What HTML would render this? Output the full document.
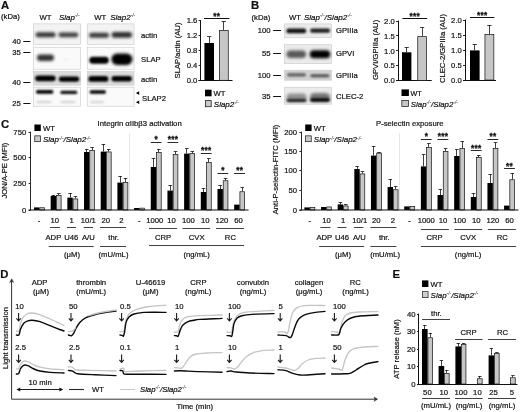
<!DOCTYPE html>
<html lang="en">
<head>
<meta charset="utf-8">
<title>Figure</title>
<style>html,body{margin:0;padding:0;background:#fff}svg{display:block}</style>
</head>
<body>
<svg width="520" height="412" viewBox="0 0 520 412" font-family="'Liberation Sans', Arial, sans-serif" fill="#111">
<defs>
<filter id="b0_6" x="-30%" y="-80%" width="160%" height="260%"><feGaussianBlur stdDeviation="0.6"/></filter>
<filter id="b0_8" x="-30%" y="-80%" width="160%" height="260%"><feGaussianBlur stdDeviation="0.8"/></filter>
<filter id="b0_9" x="-30%" y="-80%" width="160%" height="260%"><feGaussianBlur stdDeviation="0.9"/></filter>
<filter id="b1_0" x="-30%" y="-80%" width="160%" height="260%"><feGaussianBlur stdDeviation="1.0"/></filter>
<filter id="b1_1" x="-30%" y="-80%" width="160%" height="260%"><feGaussianBlur stdDeviation="1.1"/></filter>
<filter id="b1_2" x="-30%" y="-80%" width="160%" height="260%"><feGaussianBlur stdDeviation="1.2"/></filter>
<filter id="b1_3" x="-30%" y="-80%" width="160%" height="260%"><feGaussianBlur stdDeviation="1.3"/></filter>
<filter id="b1_4" x="-30%" y="-80%" width="160%" height="260%"><feGaussianBlur stdDeviation="1.4"/></filter>
<filter id="b1_6" x="-30%" y="-80%" width="160%" height="260%"><feGaussianBlur stdDeviation="1.6"/></filter>
<filter id="b1_8" x="-30%" y="-80%" width="160%" height="260%"><feGaussianBlur stdDeviation="1.8"/></filter>
<filter id="b2_0" x="-30%" y="-80%" width="160%" height="260%"><feGaussianBlur stdDeviation="2.0"/></filter>
</defs>
<style>text{stroke:#111;stroke-width:0.2px;paint-order:stroke fill}</style>
<rect width="520" height="412" fill="#fff"/>
<text x="1.00" y="9.40" font-size="11.3" font-weight="bold">A</text>
<text x="1.00" y="19.40" font-size="7.7">(kDa)</text>
<text x="39.50" y="19.50" font-size="7.7">WT</text>
<text x="59.00" y="19.50" font-size="8.0" font-style="italic">Slap<tspan dy="-2.3" font-size="4.8" stroke-width="0">-/-</tspan></text>
<text x="94.30" y="19.50" font-size="7.7">WT</text>
<text x="110.20" y="19.50" font-size="8.0" font-style="italic">Slap2<tspan dy="-2.3" font-size="4.8" stroke-width="0">-/-</tspan></text>
<rect x="33.40" y="23.90" width="47.20" height="20.40" fill="#f3f3f3" stroke="#c9c9c9" stroke-width="0.6"/>
<rect x="33.40" y="47.20" width="47.20" height="22.00" fill="#fafafa" stroke="#c9c9c9" stroke-width="0.6"/>
<rect x="33.40" y="71.60" width="47.20" height="13.60" fill="#dcdcdc" stroke="#c9c9c9" stroke-width="0.6"/>
<rect x="33.40" y="87.20" width="47.20" height="19.00" fill="#fafafa" stroke="#c9c9c9" stroke-width="0.6"/>
<rect x="87.20" y="23.90" width="46.80" height="20.40" fill="#f3f3f3" stroke="#c9c9c9" stroke-width="0.6"/>
<rect x="87.20" y="47.20" width="46.80" height="22.00" fill="#fafafa" stroke="#c9c9c9" stroke-width="0.6"/>
<rect x="87.20" y="71.60" width="46.80" height="13.60" fill="#dcdcdc" stroke="#c9c9c9" stroke-width="0.6"/>
<rect x="87.20" y="87.20" width="46.80" height="19.00" fill="#fafafa" stroke="#c9c9c9" stroke-width="0.6"/>
<rect x="35.60" y="32.30" width="20.00" height="5.00" rx="2.50" fill="#000" opacity="0.78" filter="url(#b1_6)"/>
<rect x="58.40" y="32.40" width="20.00" height="4.80" rx="2.40" fill="#000" opacity="0.74" filter="url(#b1_6)"/>
<rect x="37.00" y="54.50" width="17.00" height="6.60" rx="3.30" fill="#000" opacity="0.8" filter="url(#b1_8)"/>
<rect x="64.00" y="58.90" width="4.00" height="1.20" rx="0.60" fill="#000" opacity="0.12" filter="url(#b0_8)"/>
<rect x="35.15" y="75.40" width="20.50" height="5.80" rx="2.90" fill="#000" opacity="1" filter="url(#b1_1)"/>
<rect x="58.75" y="76.40" width="20.50" height="5.40" rx="2.70" fill="#000" opacity="1" filter="url(#b1_1)"/>
<rect x="35.95" y="90.10" width="17.50" height="3.60" rx="1.80" fill="#000" opacity="1" filter="url(#b0_9)"/>
<rect x="60.30" y="90.80" width="17.00" height="3.20" rx="1.60" fill="#000" opacity="0.95" filter="url(#b0_9)"/>
<rect x="36.50" y="101.00" width="15.00" height="2.00" rx="1.00" fill="#000" opacity="0.16" filter="url(#b0_8)"/>
<rect x="60.50" y="101.00" width="15.00" height="2.00" rx="1.00" fill="#000" opacity="0.16" filter="url(#b0_8)"/>
<rect x="89.00" y="32.70" width="20.00" height="5.00" rx="2.50" fill="#000" opacity="0.76" filter="url(#b1_6)"/>
<rect x="111.55" y="31.90" width="20.50" height="5.80" rx="2.90" fill="#000" opacity="0.8" filter="url(#b1_6)"/>
<rect x="89.25" y="56.80" width="19.50" height="7.00" rx="3.50" fill="#000" opacity="1" filter="url(#b1_3)"/>
<rect x="111.40" y="53.45" width="21.00" height="11.50" rx="5.75" fill="#000" opacity="1" filter="url(#b1_4)"/>
<rect x="88.40" y="76.00" width="20.00" height="5.80" rx="2.90" fill="#000" opacity="1" filter="url(#b1_1)"/>
<rect x="111.45" y="76.10" width="20.50" height="5.40" rx="2.70" fill="#000" opacity="1" filter="url(#b1_1)"/>
<rect x="89.55" y="90.20" width="16.50" height="3.60" rx="1.80" fill="#000" opacity="1" filter="url(#b0_9)"/>
<rect x="90.00" y="101.00" width="14.00" height="2.00" rx="1.00" fill="#000" opacity="0.16" filter="url(#b0_8)"/>
<text x="20.80" y="44.00" font-size="7.7" text-anchor="end">40</text>
<line x1="23.30" y1="41.50" x2="30.40" y2="41.50" stroke="#111" stroke-width="1.0"/>
<text x="20.80" y="54.80" font-size="7.7" text-anchor="end">35</text>
<line x1="23.30" y1="52.50" x2="30.40" y2="52.50" stroke="#111" stroke-width="1.0"/>
<text x="20.80" y="85.30" font-size="7.7" text-anchor="end">40</text>
<line x1="23.30" y1="82.50" x2="30.40" y2="82.50" stroke="#111" stroke-width="1.0"/>
<text x="20.80" y="105.80" font-size="7.7" text-anchor="end">25</text>
<line x1="23.30" y1="103.50" x2="30.40" y2="103.50" stroke="#111" stroke-width="1.0"/>
<text x="141.00" y="37.80" font-size="7.7">actin</text>
<text x="141.00" y="61.80" font-size="7.7">SLAP</text>
<text x="141.00" y="81.80" font-size="7.7">actin</text>
<text x="142.00" y="101.10" font-size="7.7">SLAP2</text>
<path d="M135.9,93.1 l3.3,-1.8 v3.6z M135.9,102.2 l3.3,-1.8 v3.6z" fill="#000"/>
<line x1="200.50" y1="20.20" x2="200.50" y2="80.70" stroke="#111" stroke-width="1.0"/>
<line x1="198.60" y1="80.50" x2="232.50" y2="80.50" stroke="#111" stroke-width="1.0"/>
<line x1="198.60" y1="20.50" x2="200.60" y2="20.50" stroke="#111" stroke-width="0.9"/>
<text x="197.40" y="23.40" font-size="7.7" text-anchor="end">1.6</text>
<line x1="198.60" y1="35.50" x2="200.60" y2="35.50" stroke="#111" stroke-width="0.9"/>
<text x="197.40" y="38.30" font-size="7.7" text-anchor="end">1.2</text>
<line x1="198.60" y1="50.50" x2="200.60" y2="50.50" stroke="#111" stroke-width="0.9"/>
<text x="197.40" y="53.20" font-size="7.7" text-anchor="end">0.8</text>
<line x1="198.60" y1="65.50" x2="200.60" y2="65.50" stroke="#111" stroke-width="0.9"/>
<text x="197.40" y="68.20" font-size="7.7" text-anchor="end">0.4</text>
<line x1="198.60" y1="80.50" x2="200.60" y2="80.50" stroke="#111" stroke-width="0.9"/>
<text x="197.40" y="83.10" font-size="7.7" text-anchor="end">0.0</text>
<text x="179.80" y="50.50" font-size="7.7" text-anchor="middle" transform="rotate(-90 179.80 50.50)">SLAP/actin (AU)</text>
<line x1="209.50" y1="43.00" x2="209.50" y2="36.60" stroke="#111" stroke-width="0.8"/>
<line x1="207.04" y1="36.50" x2="211.36" y2="36.50" stroke="#111" stroke-width="0.8"/>
<rect x="204.40" y="43.00" width="9.60" height="37.30" fill="#000"/>
<line x1="223.50" y1="30.00" x2="223.50" y2="21.40" stroke="#111" stroke-width="0.8"/>
<line x1="221.64" y1="21.50" x2="225.96" y2="21.50" stroke="#111" stroke-width="0.8"/>
<rect x="219.35" y="30.35" width="8.90" height="49.95" fill="#c6c6c6" stroke="#111" stroke-width="0.7"/>
<line x1="204.00" y1="18.50" x2="229.40" y2="18.50" stroke="#111" stroke-width="1.0"/>
<text x="216.70" y="18.50" font-size="8.2" text-anchor="middle" font-weight="bold" style="stroke-width:0.3px" letter-spacing="0.3">**</text>
<rect x="205.00" y="89.70" width="6.60" height="6.60" fill="#000"/>
<text x="213.60" y="95.80" font-size="7.7">WT</text>
<rect x="205.40" y="100.60" width="5.80" height="6.10" fill="#cacaca" stroke="#222" stroke-width="0.8"/>
<text x="213.80" y="106.60" font-size="8.0" font-style="italic">Slap2<tspan dy="-2.3" font-size="4.8" stroke-width="0">-/-</tspan></text>
<text x="251.00" y="9.30" font-size="11.3" font-weight="bold">B</text>
<text x="251.50" y="19.50" font-size="7.7">(kDa)</text>
<text x="288.90" y="19.50" font-size="7.7">WT</text>
<text x="304.00" y="19.50" font-size="8.0" font-style="italic">Slap<tspan dy="-2.3" font-size="4.8" stroke-width="0">-/-</tspan><tspan dy="2.3">/Slap2</tspan><tspan dy="-2.3" font-size="4.8" stroke-width="0">-/-</tspan></text>
<rect x="284.60" y="23.90" width="46.80" height="13.90" fill="#ebebeb" stroke="#c9c9c9" stroke-width="0.6"/>
<rect x="284.60" y="44.70" width="46.80" height="19.00" fill="#ebebeb" stroke="#c9c9c9" stroke-width="0.6"/>
<rect x="284.60" y="70.20" width="46.80" height="10.00" fill="#d2d2d2" stroke="#c9c9c9" stroke-width="0.6"/>
<rect x="284.60" y="87.20" width="46.80" height="17.00" fill="#ebebeb" stroke="#c9c9c9" stroke-width="0.6"/>
<rect x="286.30" y="28.50" width="20.00" height="4.80" rx="2.40" fill="#000" opacity="0.92" filter="url(#b1_2)"/>
<rect x="310.10" y="28.40" width="20.00" height="4.40" rx="2.20" fill="#000" opacity="0.88" filter="url(#b1_2)"/>
<rect x="286.55" y="50.45" width="19.50" height="7.50" rx="3.75" fill="#000" opacity="0.62" filter="url(#b1_8)"/>
<rect x="309.75" y="50.20" width="20.50" height="8.00" rx="4.00" fill="#000" opacity="1.0" filter="url(#b1_8)"/>
<rect x="287.00" y="73.20" width="19.00" height="3.20" rx="1.60" fill="#000" opacity="0.55" filter="url(#b0_9)"/>
<rect x="310.30" y="74.30" width="19.00" height="3.00" rx="1.50" fill="#000" opacity="0.62" filter="url(#b0_9)"/>
<rect x="286.50" y="93.50" width="20.00" height="8.00" rx="4.00" fill="#000" opacity="0.38" filter="url(#b1_8)"/>
<rect x="310.00" y="93.05" width="20.00" height="8.50" rx="4.25" fill="#000" opacity="0.5" filter="url(#b1_8)"/>
<rect x="286.50" y="98.90" width="20.00" height="3.00" rx="1.50" fill="#000" opacity="0.8" filter="url(#b1_0)"/>
<rect x="310.00" y="98.20" width="20.00" height="3.60" rx="1.80" fill="#000" opacity="0.95" filter="url(#b1_0)"/>
<text x="270.60" y="33.20" font-size="7.7" text-anchor="end">100</text>
<line x1="273.20" y1="30.50" x2="281.00" y2="30.50" stroke="#111" stroke-width="1.0"/>
<text x="270.60" y="56.40" font-size="7.7" text-anchor="end">55</text>
<line x1="273.20" y1="53.50" x2="281.00" y2="53.50" stroke="#111" stroke-width="1.0"/>
<text x="270.60" y="78.20" font-size="7.7" text-anchor="end">100</text>
<line x1="273.20" y1="75.50" x2="281.00" y2="75.50" stroke="#111" stroke-width="1.0"/>
<text x="270.60" y="98.80" font-size="7.7" text-anchor="end">35</text>
<line x1="273.20" y1="96.50" x2="281.00" y2="96.50" stroke="#111" stroke-width="1.0"/>
<text x="336.00" y="33.20" font-size="7.7">GPIIIa</text>
<text x="336.00" y="56.40" font-size="7.7">GPVI</text>
<text x="336.00" y="78.20" font-size="7.7">GPIIIa</text>
<text x="336.00" y="98.80" font-size="7.7">CLEC-2</text>
<line x1="398.50" y1="20.60" x2="398.50" y2="80.80" stroke="#111" stroke-width="1.0"/>
<line x1="396.00" y1="80.50" x2="431.70" y2="80.50" stroke="#111" stroke-width="1.0"/>
<line x1="396.00" y1="21.50" x2="398.00" y2="21.50" stroke="#111" stroke-width="0.9"/>
<text x="394.80" y="23.80" font-size="7.7" text-anchor="end">2.0</text>
<line x1="396.00" y1="35.50" x2="398.00" y2="35.50" stroke="#111" stroke-width="0.9"/>
<text x="394.80" y="38.70" font-size="7.7" text-anchor="end">1.5</text>
<line x1="396.00" y1="50.50" x2="398.00" y2="50.50" stroke="#111" stroke-width="0.9"/>
<text x="394.80" y="53.50" font-size="7.7" text-anchor="end">1.0</text>
<line x1="396.00" y1="65.50" x2="398.00" y2="65.50" stroke="#111" stroke-width="0.9"/>
<text x="394.80" y="68.40" font-size="7.7" text-anchor="end">0.5</text>
<line x1="396.00" y1="80.50" x2="398.00" y2="80.50" stroke="#111" stroke-width="0.9"/>
<text x="394.80" y="83.20" font-size="7.7" text-anchor="end">0.0</text>
<text x="377.80" y="49.90" font-size="7.7" text-anchor="middle" transform="rotate(-90 377.80 49.90)">GPVI/GPIIIa (AU)</text>
<line x1="406.50" y1="52.30" x2="406.50" y2="47.40" stroke="#111" stroke-width="0.8"/>
<line x1="404.58" y1="47.50" x2="408.81" y2="47.50" stroke="#111" stroke-width="0.8"/>
<rect x="402.00" y="52.30" width="9.40" height="28.10" fill="#000"/>
<line x1="422.50" y1="36.30" x2="422.50" y2="27.40" stroke="#111" stroke-width="0.8"/>
<line x1="419.98" y1="27.50" x2="424.21" y2="27.50" stroke="#111" stroke-width="0.8"/>
<rect x="417.75" y="36.65" width="8.70" height="43.75" fill="#c6c6c6" stroke="#111" stroke-width="0.7"/>
<line x1="402.40" y1="18.50" x2="427.20" y2="18.50" stroke="#111" stroke-width="1.0"/>
<text x="414.80" y="18.70" font-size="8.2" text-anchor="middle" font-weight="bold" style="stroke-width:0.3px" letter-spacing="0.3">***</text>
<line x1="465.50" y1="19.60" x2="465.50" y2="80.40" stroke="#111" stroke-width="1.0"/>
<line x1="463.00" y1="80.50" x2="496.00" y2="80.50" stroke="#111" stroke-width="1.0"/>
<line x1="463.00" y1="20.50" x2="465.00" y2="20.50" stroke="#111" stroke-width="0.9"/>
<text x="461.80" y="22.80" font-size="7.7" text-anchor="end">2.0</text>
<line x1="463.00" y1="35.50" x2="465.00" y2="35.50" stroke="#111" stroke-width="0.9"/>
<text x="461.80" y="37.80" font-size="7.7" text-anchor="end">1.5</text>
<line x1="463.00" y1="50.50" x2="465.00" y2="50.50" stroke="#111" stroke-width="0.9"/>
<text x="461.80" y="52.80" font-size="7.7" text-anchor="end">1.0</text>
<line x1="463.00" y1="65.50" x2="465.00" y2="65.50" stroke="#111" stroke-width="0.9"/>
<text x="461.80" y="67.80" font-size="7.7" text-anchor="end">0.5</text>
<line x1="463.00" y1="80.50" x2="465.00" y2="80.50" stroke="#111" stroke-width="0.9"/>
<text x="461.80" y="82.80" font-size="7.7" text-anchor="end">0.0</text>
<text x="444.90" y="48.50" font-size="7.7" text-anchor="middle" transform="rotate(-90 444.90 48.50)">CLEC-2/GPIIIa (AU)</text>
<line x1="474.50" y1="50.40" x2="474.50" y2="44.40" stroke="#111" stroke-width="0.8"/>
<line x1="472.64" y1="44.50" x2="476.96" y2="44.50" stroke="#111" stroke-width="0.8"/>
<rect x="470.00" y="50.40" width="9.60" height="29.60" fill="#000"/>
<line x1="489.50" y1="34.00" x2="489.50" y2="25.00" stroke="#111" stroke-width="0.8"/>
<line x1="487.24" y1="25.50" x2="491.56" y2="25.50" stroke="#111" stroke-width="0.8"/>
<rect x="484.95" y="34.35" width="8.90" height="45.65" fill="#c6c6c6" stroke="#111" stroke-width="0.7"/>
<line x1="470.00" y1="17.50" x2="494.40" y2="17.50" stroke="#111" stroke-width="1.0"/>
<text x="482.20" y="18.20" font-size="8.2" text-anchor="middle" font-weight="bold" style="stroke-width:0.3px" letter-spacing="0.3">***</text>
<rect x="401.50" y="89.40" width="7.40" height="6.60" fill="#000"/>
<text x="410.40" y="95.60" font-size="7.2">WT</text>
<rect x="401.80" y="100.40" width="6.80" height="6.20" fill="#c6c6c6" stroke="#111" stroke-width="0.7"/>
<text x="410.80" y="106.60" font-size="7.85" font-style="italic">Slap<tspan dy="-2.3" font-size="4.8" stroke-width="0">-/-</tspan><tspan dy="2.3">/Slap2</tspan><tspan dy="-2.3" font-size="4.8" stroke-width="0">-/-</tspan></text>
<text x="1.00" y="127.90" font-size="11.3" font-weight="bold">C</text>
<text x="97.60" y="126.00" font-size="7.7">Integrin αIIbβ3 activation</text>
<text x="376.00" y="126.00" font-size="7.7">P-selectin exposure</text>
<line x1="129.50" y1="133.00" x2="129.50" y2="210.00" stroke="#cfcfcf" stroke-width="0.5"/>
<rect x="34.00" y="207.40" width="5.40" height="2.60" fill="#000"/>
<rect x="39.75" y="207.75" width="4.70" height="2.25" fill="#c6c6c6" stroke="#111" stroke-width="0.7"/>
<line x1="53.50" y1="196.00" x2="53.50" y2="195.00" stroke="#111" stroke-width="0.8"/>
<line x1="51.58" y1="195.50" x2="55.18" y2="195.50" stroke="#111" stroke-width="0.8"/>
<rect x="50.68" y="196.00" width="5.40" height="14.00" fill="#000"/>
<line x1="58.50" y1="195.00" x2="58.50" y2="193.80" stroke="#111" stroke-width="0.8"/>
<line x1="56.98" y1="193.50" x2="60.58" y2="193.50" stroke="#111" stroke-width="0.8"/>
<rect x="56.43" y="195.35" width="4.70" height="14.65" fill="#c6c6c6" stroke="#111" stroke-width="0.7"/>
<line x1="70.50" y1="197.60" x2="70.50" y2="193.00" stroke="#111" stroke-width="0.8"/>
<line x1="68.26" y1="193.50" x2="71.86" y2="193.50" stroke="#111" stroke-width="0.8"/>
<rect x="67.36" y="197.60" width="5.40" height="12.40" fill="#000"/>
<line x1="75.50" y1="198.60" x2="75.50" y2="196.60" stroke="#111" stroke-width="0.8"/>
<line x1="73.66" y1="196.50" x2="77.26" y2="196.50" stroke="#111" stroke-width="0.8"/>
<rect x="73.11" y="198.95" width="4.70" height="11.05" fill="#c6c6c6" stroke="#111" stroke-width="0.7"/>
<line x1="86.50" y1="152.00" x2="86.50" y2="149.40" stroke="#111" stroke-width="0.8"/>
<line x1="84.94" y1="149.50" x2="88.54" y2="149.50" stroke="#111" stroke-width="0.8"/>
<rect x="84.04" y="152.00" width="5.40" height="58.00" fill="#000"/>
<line x1="92.50" y1="150.00" x2="92.50" y2="147.60" stroke="#111" stroke-width="0.8"/>
<line x1="90.34" y1="147.50" x2="93.94" y2="147.50" stroke="#111" stroke-width="0.8"/>
<rect x="89.79" y="150.35" width="4.70" height="59.65" fill="#c6c6c6" stroke="#111" stroke-width="0.7"/>
<line x1="103.50" y1="151.60" x2="103.50" y2="144.00" stroke="#111" stroke-width="0.8"/>
<line x1="101.62" y1="144.50" x2="105.22" y2="144.50" stroke="#111" stroke-width="0.8"/>
<rect x="100.72" y="151.60" width="5.40" height="58.40" fill="#000"/>
<line x1="108.50" y1="151.60" x2="108.50" y2="149.00" stroke="#111" stroke-width="0.8"/>
<line x1="107.02" y1="149.50" x2="110.62" y2="149.50" stroke="#111" stroke-width="0.8"/>
<rect x="106.47" y="151.95" width="4.70" height="58.05" fill="#c6c6c6" stroke="#111" stroke-width="0.7"/>
<line x1="120.50" y1="182.60" x2="120.50" y2="176.00" stroke="#111" stroke-width="0.8"/>
<line x1="118.30" y1="176.50" x2="121.90" y2="176.50" stroke="#111" stroke-width="0.8"/>
<rect x="117.40" y="182.60" width="5.40" height="27.40" fill="#000"/>
<line x1="125.50" y1="182.00" x2="125.50" y2="178.00" stroke="#111" stroke-width="0.8"/>
<line x1="123.70" y1="178.50" x2="127.30" y2="178.50" stroke="#111" stroke-width="0.8"/>
<rect x="123.15" y="182.35" width="4.70" height="27.65" fill="#c6c6c6" stroke="#111" stroke-width="0.7"/>
<rect x="134.08" y="208.00" width="5.40" height="2.00" fill="#000"/>
<rect x="139.83" y="208.15" width="4.70" height="1.85" fill="#c6c6c6" stroke="#111" stroke-width="0.7"/>
<line x1="153.50" y1="167.00" x2="153.50" y2="158.00" stroke="#111" stroke-width="0.8"/>
<line x1="151.66" y1="158.50" x2="155.26" y2="158.50" stroke="#111" stroke-width="0.8"/>
<rect x="150.76" y="167.00" width="5.40" height="43.00" fill="#000"/>
<line x1="158.50" y1="152.00" x2="158.50" y2="149.00" stroke="#111" stroke-width="0.8"/>
<line x1="157.06" y1="149.50" x2="160.66" y2="149.50" stroke="#111" stroke-width="0.8"/>
<rect x="156.51" y="152.35" width="4.70" height="57.65" fill="#c6c6c6" stroke="#111" stroke-width="0.7"/>
<line x1="170.50" y1="190.60" x2="170.50" y2="185.00" stroke="#111" stroke-width="0.8"/>
<line x1="168.34" y1="185.50" x2="171.94" y2="185.50" stroke="#111" stroke-width="0.8"/>
<rect x="167.44" y="190.60" width="5.40" height="19.40" fill="#000"/>
<line x1="175.50" y1="154.00" x2="175.50" y2="151.60" stroke="#111" stroke-width="0.8"/>
<line x1="173.74" y1="151.50" x2="177.34" y2="151.50" stroke="#111" stroke-width="0.8"/>
<rect x="173.19" y="154.35" width="4.70" height="55.65" fill="#c6c6c6" stroke="#111" stroke-width="0.7"/>
<line x1="186.50" y1="153.60" x2="186.50" y2="148.60" stroke="#111" stroke-width="0.8"/>
<line x1="185.02" y1="148.50" x2="188.62" y2="148.50" stroke="#111" stroke-width="0.8"/>
<rect x="184.12" y="153.60" width="5.40" height="56.40" fill="#000"/>
<line x1="192.50" y1="153.00" x2="192.50" y2="151.40" stroke="#111" stroke-width="0.8"/>
<line x1="190.42" y1="151.50" x2="194.02" y2="151.50" stroke="#111" stroke-width="0.8"/>
<rect x="189.87" y="153.35" width="4.70" height="56.65" fill="#c6c6c6" stroke="#111" stroke-width="0.7"/>
<line x1="203.50" y1="192.00" x2="203.50" y2="188.00" stroke="#111" stroke-width="0.8"/>
<line x1="201.70" y1="188.50" x2="205.30" y2="188.50" stroke="#111" stroke-width="0.8"/>
<rect x="200.80" y="192.00" width="5.40" height="18.00" fill="#000"/>
<line x1="208.50" y1="162.00" x2="208.50" y2="158.60" stroke="#111" stroke-width="0.8"/>
<line x1="207.10" y1="158.50" x2="210.70" y2="158.50" stroke="#111" stroke-width="0.8"/>
<rect x="206.55" y="162.35" width="4.70" height="47.65" fill="#c6c6c6" stroke="#111" stroke-width="0.7"/>
<line x1="220.50" y1="189.00" x2="220.50" y2="185.00" stroke="#111" stroke-width="0.8"/>
<line x1="218.38" y1="185.50" x2="221.98" y2="185.50" stroke="#111" stroke-width="0.8"/>
<rect x="217.48" y="189.00" width="5.40" height="21.00" fill="#000"/>
<line x1="225.50" y1="180.40" x2="225.50" y2="178.40" stroke="#111" stroke-width="0.8"/>
<line x1="223.78" y1="178.50" x2="227.38" y2="178.50" stroke="#111" stroke-width="0.8"/>
<rect x="223.23" y="180.75" width="4.70" height="29.25" fill="#c6c6c6" stroke="#111" stroke-width="0.7"/>
<rect x="234.16" y="204.60" width="5.40" height="5.40" fill="#000"/>
<line x1="242.50" y1="191.40" x2="242.50" y2="187.60" stroke="#111" stroke-width="0.8"/>
<line x1="240.46" y1="187.50" x2="244.06" y2="187.50" stroke="#111" stroke-width="0.8"/>
<rect x="239.91" y="191.75" width="4.70" height="18.25" fill="#c6c6c6" stroke="#111" stroke-width="0.7"/>
<line x1="30.50" y1="131.60" x2="30.50" y2="210.40" stroke="#2a2a2a" stroke-width="1.0"/>
<line x1="28.60" y1="210.00" x2="248.60" y2="210.00" stroke="#111" stroke-width="1.2"/>
<line x1="28.60" y1="132.50" x2="30.40" y2="132.50" stroke="#111" stroke-width="0.9"/>
<text x="26.20" y="134.60" font-size="7.7" text-anchor="end">750</text>
<line x1="28.60" y1="157.50" x2="30.40" y2="157.50" stroke="#111" stroke-width="0.9"/>
<text x="26.20" y="160.40" font-size="7.7" text-anchor="end">500</text>
<line x1="28.60" y1="183.50" x2="30.40" y2="183.50" stroke="#111" stroke-width="0.9"/>
<text x="26.20" y="186.20" font-size="7.7" text-anchor="end">250</text>
<line x1="28.60" y1="210.50" x2="30.40" y2="210.50" stroke="#111" stroke-width="0.9"/>
<text x="26.20" y="212.60" font-size="7.7" text-anchor="end">0</text>
<text x="6.90" y="170.60" font-size="7.7" text-anchor="middle" transform="rotate(-90 6.90 170.60)">JON/A-PE (MFI)</text>
<line x1="150.76" y1="142.50" x2="161.56" y2="142.50" stroke="#111" stroke-width="0.9"/>
<text x="156.26" y="142.20" font-size="8.2" text-anchor="middle" font-weight="bold" style="stroke-width:0.3px" letter-spacing="0.3">*</text>
<line x1="167.44" y1="142.50" x2="178.24" y2="142.50" stroke="#111" stroke-width="0.9"/>
<text x="172.94" y="142.20" font-size="8.2" text-anchor="middle" font-weight="bold" style="stroke-width:0.3px" letter-spacing="0.3">***</text>
<line x1="200.80" y1="153.50" x2="211.60" y2="153.50" stroke="#111" stroke-width="0.9"/>
<text x="206.30" y="153.20" font-size="8.2" text-anchor="middle" font-weight="bold" style="stroke-width:0.3px" letter-spacing="0.3">***</text>
<line x1="217.48" y1="173.50" x2="228.28" y2="173.50" stroke="#111" stroke-width="0.9"/>
<text x="222.98" y="173.20" font-size="8.2" text-anchor="middle" font-weight="bold" style="stroke-width:0.3px" letter-spacing="0.3">*</text>
<line x1="234.16" y1="173.50" x2="244.96" y2="173.50" stroke="#111" stroke-width="0.9"/>
<text x="239.66" y="173.20" font-size="8.2" text-anchor="middle" font-weight="bold" style="stroke-width:0.3px" letter-spacing="0.3">**</text>
<rect x="34.40" y="124.50" width="6.40" height="6.50" fill="#000"/>
<text x="43.00" y="130.60" font-size="7.7">WT</text>
<rect x="34.75" y="135.85" width="5.70" height="5.80" fill="#cacaca" stroke="#222" stroke-width="0.75"/>
<text x="43.00" y="141.80" font-size="8.0" font-style="italic">Slap<tspan dy="-2.3" font-size="4.8" stroke-width="0">-/-</tspan><tspan dy="2.3">/Slap2</tspan><tspan dy="-2.3" font-size="4.8" stroke-width="0">-/-</tspan></text>
<text x="39.00" y="223.30" font-size="7.7" text-anchor="middle">-</text>
<text x="54.68" y="223.30" font-size="7.7" text-anchor="middle">10</text>
<text x="71.66" y="223.30" font-size="7.7" text-anchor="middle">1</text>
<text x="88.34" y="223.30" font-size="7.7" text-anchor="middle">10/1</text>
<text x="105.82" y="223.30" font-size="7.7" text-anchor="middle">20</text>
<text x="121.40" y="223.30" font-size="7.7" text-anchor="middle">2</text>
<text x="139.18" y="223.30" font-size="7.7" text-anchor="middle">-</text>
<text x="154.76" y="223.30" font-size="7.7" text-anchor="middle">1000</text>
<text x="171.64" y="223.30" font-size="7.7" text-anchor="middle">10</text>
<text x="188.32" y="223.30" font-size="7.7" text-anchor="middle">100</text>
<text x="205.20" y="223.30" font-size="7.7" text-anchor="middle">10</text>
<text x="221.88" y="223.30" font-size="7.7" text-anchor="middle">120</text>
<text x="238.46" y="223.30" font-size="7.7" text-anchor="middle">60</text>
<line x1="50.00" y1="227.50" x2="60.00" y2="227.50" stroke="#111" stroke-width="0.8"/>
<line x1="67.00" y1="227.50" x2="76.00" y2="227.50" stroke="#111" stroke-width="0.8"/>
<line x1="83.70" y1="227.50" x2="93.00" y2="227.50" stroke="#111" stroke-width="0.8"/>
<line x1="100.00" y1="227.50" x2="126.00" y2="227.50" stroke="#111" stroke-width="0.8"/>
<line x1="149.00" y1="228.50" x2="177.00" y2="228.50" stroke="#111" stroke-width="0.8"/>
<line x1="182.50" y1="228.50" x2="210.20" y2="228.50" stroke="#111" stroke-width="0.8"/>
<line x1="216.00" y1="228.50" x2="244.00" y2="228.50" stroke="#111" stroke-width="0.8"/>
<text x="53.40" y="239.50" font-size="7.7" text-anchor="middle">ADP</text>
<text x="71.30" y="239.50" font-size="7.7" text-anchor="middle">U46</text>
<text x="88.30" y="239.50" font-size="7.7" text-anchor="middle">A/U</text>
<text x="113.60" y="239.50" font-size="7.7" text-anchor="middle">thr.</text>
<text x="163.00" y="239.50" font-size="7.7" text-anchor="middle">CRP</text>
<text x="196.70" y="239.50" font-size="7.7" text-anchor="middle">CVX</text>
<text x="230.40" y="239.50" font-size="7.7" text-anchor="middle">RC</text>
<line x1="48.70" y1="246.50" x2="93.70" y2="246.50" stroke="#111" stroke-width="0.8"/>
<line x1="100.00" y1="246.50" x2="126.00" y2="246.50" stroke="#111" stroke-width="0.8"/>
<line x1="149.00" y1="245.50" x2="244.00" y2="245.50" stroke="#111" stroke-width="0.8"/>
<text x="72.00" y="257.30" font-size="7.7" text-anchor="middle">(μM)</text>
<text x="113.50" y="257.30" font-size="7.7" text-anchor="middle">(mU/mL)</text>
<text x="196.70" y="257.30" font-size="7.7" text-anchor="middle">(ng/mL)</text>
<line x1="399.50" y1="133.00" x2="399.50" y2="210.00" stroke="#cfcfcf" stroke-width="0.5"/>
<rect x="304.40" y="207.40" width="5.40" height="2.60" fill="#000"/>
<rect x="310.15" y="207.35" width="4.70" height="2.65" fill="#c6c6c6" stroke="#111" stroke-width="0.7"/>
<rect x="321.04" y="207.00" width="5.40" height="3.00" fill="#000"/>
<rect x="326.79" y="206.95" width="4.70" height="3.05" fill="#c6c6c6" stroke="#111" stroke-width="0.7"/>
<line x1="340.50" y1="204.40" x2="340.50" y2="202.40" stroke="#111" stroke-width="0.8"/>
<line x1="338.58" y1="202.50" x2="342.18" y2="202.50" stroke="#111" stroke-width="0.8"/>
<rect x="337.68" y="204.40" width="5.40" height="5.60" fill="#000"/>
<line x1="345.50" y1="205.60" x2="345.50" y2="204.80" stroke="#111" stroke-width="0.8"/>
<line x1="343.98" y1="204.50" x2="347.58" y2="204.50" stroke="#111" stroke-width="0.8"/>
<rect x="343.43" y="205.95" width="4.70" height="4.05" fill="#c6c6c6" stroke="#111" stroke-width="0.7"/>
<line x1="357.50" y1="169.00" x2="357.50" y2="166.60" stroke="#111" stroke-width="0.8"/>
<line x1="355.22" y1="166.50" x2="358.82" y2="166.50" stroke="#111" stroke-width="0.8"/>
<rect x="354.32" y="169.00" width="5.40" height="41.00" fill="#000"/>
<line x1="362.50" y1="173.60" x2="362.50" y2="171.60" stroke="#111" stroke-width="0.8"/>
<line x1="360.62" y1="171.50" x2="364.22" y2="171.50" stroke="#111" stroke-width="0.8"/>
<rect x="360.07" y="173.95" width="4.70" height="36.05" fill="#c6c6c6" stroke="#111" stroke-width="0.7"/>
<line x1="373.50" y1="155.60" x2="373.50" y2="146.00" stroke="#111" stroke-width="0.8"/>
<line x1="371.86" y1="146.50" x2="375.46" y2="146.50" stroke="#111" stroke-width="0.8"/>
<rect x="370.96" y="155.60" width="5.40" height="54.40" fill="#000"/>
<line x1="379.50" y1="152.80" x2="379.50" y2="152.40" stroke="#111" stroke-width="0.8"/>
<line x1="377.26" y1="152.50" x2="380.86" y2="152.50" stroke="#111" stroke-width="0.8"/>
<rect x="376.71" y="153.15" width="4.70" height="56.85" fill="#c6c6c6" stroke="#111" stroke-width="0.7"/>
<line x1="390.50" y1="187.00" x2="390.50" y2="179.00" stroke="#111" stroke-width="0.8"/>
<line x1="388.50" y1="179.50" x2="392.10" y2="179.50" stroke="#111" stroke-width="0.8"/>
<rect x="387.60" y="187.00" width="5.40" height="23.00" fill="#000"/>
<line x1="395.50" y1="189.40" x2="395.50" y2="186.60" stroke="#111" stroke-width="0.8"/>
<line x1="393.90" y1="186.50" x2="397.50" y2="186.50" stroke="#111" stroke-width="0.8"/>
<rect x="393.35" y="189.75" width="4.70" height="20.25" fill="#c6c6c6" stroke="#111" stroke-width="0.7"/>
<rect x="404.24" y="206.40" width="5.40" height="3.60" fill="#000"/>
<rect x="409.99" y="206.35" width="4.70" height="3.65" fill="#c6c6c6" stroke="#111" stroke-width="0.7"/>
<line x1="423.50" y1="166.40" x2="423.50" y2="154.40" stroke="#111" stroke-width="0.8"/>
<line x1="421.78" y1="154.50" x2="425.38" y2="154.50" stroke="#111" stroke-width="0.8"/>
<rect x="420.88" y="166.40" width="5.40" height="43.60" fill="#000"/>
<line x1="428.50" y1="147.00" x2="428.50" y2="143.40" stroke="#111" stroke-width="0.8"/>
<line x1="427.18" y1="143.50" x2="430.78" y2="143.50" stroke="#111" stroke-width="0.8"/>
<rect x="426.63" y="147.35" width="4.70" height="62.65" fill="#c6c6c6" stroke="#111" stroke-width="0.7"/>
<line x1="440.50" y1="195.00" x2="440.50" y2="189.40" stroke="#111" stroke-width="0.8"/>
<line x1="438.42" y1="189.50" x2="442.02" y2="189.50" stroke="#111" stroke-width="0.8"/>
<rect x="437.52" y="195.00" width="5.40" height="15.00" fill="#000"/>
<line x1="445.50" y1="151.00" x2="445.50" y2="148.60" stroke="#111" stroke-width="0.8"/>
<line x1="443.82" y1="148.50" x2="447.42" y2="148.50" stroke="#111" stroke-width="0.8"/>
<rect x="443.27" y="151.35" width="4.70" height="58.65" fill="#c6c6c6" stroke="#111" stroke-width="0.7"/>
<line x1="456.50" y1="156.00" x2="456.50" y2="149.40" stroke="#111" stroke-width="0.8"/>
<line x1="455.06" y1="149.50" x2="458.66" y2="149.50" stroke="#111" stroke-width="0.8"/>
<rect x="454.16" y="156.00" width="5.40" height="54.00" fill="#000"/>
<line x1="462.50" y1="148.00" x2="462.50" y2="141.40" stroke="#111" stroke-width="0.8"/>
<line x1="460.46" y1="141.50" x2="464.06" y2="141.50" stroke="#111" stroke-width="0.8"/>
<rect x="459.91" y="148.35" width="4.70" height="61.65" fill="#c6c6c6" stroke="#111" stroke-width="0.7"/>
<line x1="473.50" y1="197.00" x2="473.50" y2="193.40" stroke="#111" stroke-width="0.8"/>
<line x1="471.70" y1="193.50" x2="475.30" y2="193.50" stroke="#111" stroke-width="0.8"/>
<rect x="470.80" y="197.00" width="5.40" height="13.00" fill="#000"/>
<line x1="478.50" y1="157.00" x2="478.50" y2="155.00" stroke="#111" stroke-width="0.8"/>
<line x1="477.10" y1="155.50" x2="480.70" y2="155.50" stroke="#111" stroke-width="0.8"/>
<rect x="476.55" y="157.35" width="4.70" height="52.65" fill="#c6c6c6" stroke="#111" stroke-width="0.7"/>
<line x1="490.50" y1="183.00" x2="490.50" y2="174.00" stroke="#111" stroke-width="0.8"/>
<line x1="488.34" y1="174.50" x2="491.94" y2="174.50" stroke="#111" stroke-width="0.8"/>
<rect x="487.44" y="183.00" width="5.40" height="27.00" fill="#000"/>
<line x1="495.50" y1="148.00" x2="495.50" y2="142.60" stroke="#111" stroke-width="0.8"/>
<line x1="493.74" y1="142.50" x2="497.34" y2="142.50" stroke="#111" stroke-width="0.8"/>
<rect x="493.19" y="148.35" width="4.70" height="61.65" fill="#c6c6c6" stroke="#111" stroke-width="0.7"/>
<rect x="504.08" y="205.60" width="5.40" height="4.40" fill="#000"/>
<line x1="512.50" y1="179.40" x2="512.50" y2="173.00" stroke="#111" stroke-width="0.8"/>
<line x1="510.38" y1="173.50" x2="513.98" y2="173.50" stroke="#111" stroke-width="0.8"/>
<rect x="509.83" y="179.75" width="4.70" height="30.25" fill="#c6c6c6" stroke="#111" stroke-width="0.7"/>
<line x1="301.50" y1="131.60" x2="301.50" y2="210.40" stroke="#2a2a2a" stroke-width="1.0"/>
<line x1="299.40" y1="210.00" x2="518.50" y2="210.00" stroke="#111" stroke-width="1.2"/>
<line x1="299.40" y1="132.50" x2="301.20" y2="132.50" stroke="#111" stroke-width="0.9"/>
<text x="297.00" y="134.60" font-size="7.7" text-anchor="end">200</text>
<line x1="299.40" y1="151.50" x2="301.20" y2="151.50" stroke="#111" stroke-width="0.9"/>
<text x="297.00" y="154.00" font-size="7.7" text-anchor="end">150</text>
<line x1="299.40" y1="170.50" x2="301.20" y2="170.50" stroke="#111" stroke-width="0.9"/>
<text x="297.00" y="173.40" font-size="7.7" text-anchor="end">100</text>
<line x1="299.40" y1="190.50" x2="301.20" y2="190.50" stroke="#111" stroke-width="0.9"/>
<text x="297.00" y="193.00" font-size="7.7" text-anchor="end">50</text>
<line x1="299.40" y1="210.50" x2="301.20" y2="210.50" stroke="#111" stroke-width="0.9"/>
<text x="297.00" y="212.60" font-size="7.7" text-anchor="end">0</text>
<text x="277.80" y="169.50" font-size="7.7" text-anchor="middle" transform="rotate(-90 277.80 169.50)">Anti-P-selectin-FITC (MFI)</text>
<line x1="420.88" y1="139.50" x2="431.68" y2="139.50" stroke="#111" stroke-width="0.9"/>
<text x="426.38" y="139.20" font-size="8.2" text-anchor="middle" font-weight="bold" style="stroke-width:0.3px" letter-spacing="0.3">*</text>
<line x1="437.52" y1="139.50" x2="448.32" y2="139.50" stroke="#111" stroke-width="0.9"/>
<text x="443.02" y="139.20" font-size="8.2" text-anchor="middle" font-weight="bold" style="stroke-width:0.3px" letter-spacing="0.3">***</text>
<line x1="470.80" y1="150.50" x2="481.60" y2="150.50" stroke="#111" stroke-width="0.9"/>
<text x="476.30" y="150.80" font-size="8.2" text-anchor="middle" font-weight="bold" style="stroke-width:0.3px" letter-spacing="0.3">***</text>
<line x1="487.44" y1="139.50" x2="498.24" y2="139.50" stroke="#111" stroke-width="0.9"/>
<text x="492.94" y="139.20" font-size="8.2" text-anchor="middle" font-weight="bold" style="stroke-width:0.3px" letter-spacing="0.3">**</text>
<line x1="504.08" y1="168.50" x2="514.88" y2="168.50" stroke="#111" stroke-width="0.9"/>
<text x="509.58" y="168.80" font-size="8.2" text-anchor="middle" font-weight="bold" style="stroke-width:0.3px" letter-spacing="0.3">**</text>
<rect x="305.20" y="124.50" width="6.40" height="6.50" fill="#000"/>
<text x="313.80" y="130.60" font-size="7.7">WT</text>
<rect x="305.55" y="135.85" width="5.70" height="5.80" fill="#cacaca" stroke="#222" stroke-width="0.75"/>
<text x="313.80" y="141.80" font-size="8.0" font-style="italic">Slap<tspan dy="-2.3" font-size="4.8" stroke-width="0">-/-</tspan><tspan dy="2.3">/Slap2</tspan><tspan dy="-2.3" font-size="4.8" stroke-width="0">-/-</tspan></text>
<text x="309.80" y="223.30" font-size="7.7" text-anchor="middle">-</text>
<text x="326.44" y="223.30" font-size="7.7" text-anchor="middle">10</text>
<text x="343.08" y="223.30" font-size="7.7" text-anchor="middle">1</text>
<text x="359.72" y="223.30" font-size="7.7" text-anchor="middle">10/1</text>
<text x="376.36" y="223.30" font-size="7.7" text-anchor="middle">20</text>
<text x="393.00" y="223.30" font-size="7.7" text-anchor="middle">2</text>
<text x="409.64" y="223.30" font-size="7.7" text-anchor="middle">-</text>
<text x="426.28" y="223.30" font-size="7.7" text-anchor="middle">1000</text>
<text x="442.92" y="223.30" font-size="7.7" text-anchor="middle">10</text>
<text x="459.56" y="223.30" font-size="7.7" text-anchor="middle">100</text>
<text x="476.20" y="223.30" font-size="7.7" text-anchor="middle">10</text>
<text x="492.84" y="223.30" font-size="7.7" text-anchor="middle">120</text>
<text x="509.48" y="223.30" font-size="7.7" text-anchor="middle">60</text>
<line x1="320.40" y1="227.50" x2="330.40" y2="227.50" stroke="#111" stroke-width="0.8"/>
<line x1="337.40" y1="227.50" x2="346.40" y2="227.50" stroke="#111" stroke-width="0.8"/>
<line x1="354.10" y1="227.50" x2="363.40" y2="227.50" stroke="#111" stroke-width="0.8"/>
<line x1="370.40" y1="227.50" x2="396.40" y2="227.50" stroke="#111" stroke-width="0.8"/>
<line x1="420.90" y1="229.50" x2="448.90" y2="229.50" stroke="#111" stroke-width="0.8"/>
<line x1="454.40" y1="229.50" x2="482.10" y2="229.50" stroke="#111" stroke-width="0.8"/>
<line x1="487.90" y1="229.50" x2="515.90" y2="229.50" stroke="#111" stroke-width="0.8"/>
<text x="324.30" y="239.50" font-size="7.7" text-anchor="middle">ADP</text>
<text x="342.00" y="239.50" font-size="7.7" text-anchor="middle">U46</text>
<text x="359.30" y="239.50" font-size="7.7" text-anchor="middle">A/U</text>
<text x="384.30" y="239.50" font-size="7.7" text-anchor="middle">thr.</text>
<text x="434.60" y="239.50" font-size="7.7" text-anchor="middle">CRP</text>
<text x="468.20" y="239.50" font-size="7.7" text-anchor="middle">CVX</text>
<text x="502.20" y="239.50" font-size="7.7" text-anchor="middle">RC</text>
<line x1="319.10" y1="246.50" x2="364.10" y2="246.50" stroke="#111" stroke-width="0.8"/>
<line x1="370.40" y1="246.50" x2="396.40" y2="246.50" stroke="#111" stroke-width="0.8"/>
<line x1="420.90" y1="246.50" x2="515.90" y2="246.50" stroke="#111" stroke-width="0.8"/>
<text x="343.00" y="257.30" font-size="7.7" text-anchor="middle">(μM)</text>
<text x="385.10" y="257.30" font-size="7.7" text-anchor="middle">(mU/mL)</text>
<text x="468.10" y="257.30" font-size="7.7" text-anchor="middle">(ng/mL)</text>
<text x="0.20" y="278.40" font-size="11.3" font-weight="bold">D</text>
<path d="M11.6,279.6 V399.2 H377" fill="none" stroke="#333" stroke-width="1.0" stroke-linejoin="round"/>
<path d="M9.7,282.4 L11.7,278.8 L13.7,282.4 L11.7,281.4z" fill="#333" stroke="#333" stroke-width="0.5"/>
<path d="M374,397.1 L377.6,399.2 L374,401.3 L375,399.2z" fill="#333" stroke="#333" stroke-width="0.5"/>
<text x="7.70" y="338.00" font-size="7.7" text-anchor="middle" transform="rotate(-90 7.70 338.00)">Light transmission</text>
<text x="176.60" y="408.70" font-size="7.7">Time (min)</text>
<text x="39.60" y="284.60" font-size="7.7" text-anchor="middle">ADP</text>
<text x="41.00" y="294.10" font-size="7.7" text-anchor="middle">(μM)</text>
<text x="91.20" y="284.60" font-size="7.7" text-anchor="middle">thrombin</text>
<text x="91.20" y="294.10" font-size="7.7" text-anchor="middle">(mU/mL)</text>
<text x="150.60" y="284.60" font-size="7.7" text-anchor="middle">U-46619</text>
<text x="150.60" y="294.10" font-size="7.7" text-anchor="middle">(μM)</text>
<text x="198.40" y="284.60" font-size="7.7" text-anchor="middle">CRP</text>
<text x="198.20" y="294.10" font-size="7.7" text-anchor="middle">(ng/mL)</text>
<text x="252.90" y="284.60" font-size="7.7" text-anchor="middle">convulxin</text>
<text x="253.00" y="294.10" font-size="7.7" text-anchor="middle">(ng/mL)</text>
<text x="309.00" y="284.60" font-size="7.7" text-anchor="middle">collagen</text>
<text x="309.00" y="294.10" font-size="7.7" text-anchor="middle">(μg/mL)</text>
<text x="355.30" y="284.60" font-size="7.7" text-anchor="middle">RC</text>
<text x="355.60" y="294.10" font-size="7.7" text-anchor="middle">(ng/mL)</text>
<text x="15.30" y="308.80" font-size="7.7">10</text>
<path d="M18.6,313 V321 M16.400000000000002,318.4 L18.6,321 L20.8,318.4" fill="none" stroke="#1a1a1a" stroke-width="1.1"/>
<text x="15.30" y="350.20" font-size="7.7">2.5</text>
<path d="M18.6,354.6 V362.4 M16.400000000000002,359.79999999999995 L18.6,362.4 L20.8,359.79999999999995" fill="none" stroke="#1a1a1a" stroke-width="1.1"/>
<text x="69.00" y="308.80" font-size="7.7">50</text>
<path d="M71,313 V321 M68.8,318.4 L71,321 L73.2,318.4" fill="none" stroke="#1a1a1a" stroke-width="1.1"/>
<text x="69.00" y="350.20" font-size="7.7">2.5</text>
<path d="M71,354.6 V362.4 M68.8,359.79999999999995 L71,362.4 L73.2,359.79999999999995" fill="none" stroke="#1a1a1a" stroke-width="1.1"/>
<text x="120.00" y="308.80" font-size="7.7">0.5</text>
<path d="M121.6,313 V321 M119.39999999999999,318.4 L121.6,321 L123.8,318.4" fill="none" stroke="#1a1a1a" stroke-width="1.1"/>
<text x="120.00" y="350.20" font-size="7.7">0.1</text>
<path d="M121.6,354.6 V362.4 M119.39999999999999,359.79999999999995 L121.6,362.4 L123.8,359.79999999999995" fill="none" stroke="#1a1a1a" stroke-width="1.1"/>
<text x="175.00" y="308.80" font-size="7.7">10</text>
<path d="M176.6,313 V321 M174.4,318.4 L176.6,321 L178.79999999999998,318.4" fill="none" stroke="#1a1a1a" stroke-width="1.1"/>
<text x="175.00" y="350.20" font-size="7.7">1</text>
<path d="M176.6,354.6 V362.4 M174.4,359.79999999999995 L176.6,362.4 L178.79999999999998,359.79999999999995" fill="none" stroke="#1a1a1a" stroke-width="1.1"/>
<text x="228.00" y="308.80" font-size="7.7">100</text>
<path d="M229.4,313 V321 M227.20000000000002,318.4 L229.4,321 L231.6,318.4" fill="none" stroke="#1a1a1a" stroke-width="1.1"/>
<text x="228.00" y="350.20" font-size="7.7">10</text>
<path d="M229.4,354.6 V362.4 M227.20000000000002,359.79999999999995 L229.4,362.4 L231.6,359.79999999999995" fill="none" stroke="#1a1a1a" stroke-width="1.1"/>
<text x="278.60" y="308.80" font-size="7.7">5</text>
<path d="M280.2,313 V321 M278.0,318.4 L280.2,321 L282.4,318.4" fill="none" stroke="#1a1a1a" stroke-width="1.1"/>
<text x="278.60" y="350.20" font-size="7.7">1</text>
<path d="M280.2,354.6 V362.4 M278.0,359.79999999999995 L280.2,362.4 L282.4,359.79999999999995" fill="none" stroke="#1a1a1a" stroke-width="1.1"/>
<text x="333.00" y="308.80" font-size="7.7">100</text>
<path d="M334.4,313 V321 M332.2,318.4 L334.4,321 L336.59999999999997,318.4" fill="none" stroke="#1a1a1a" stroke-width="1.1"/>
<text x="333.00" y="350.20" font-size="7.7">50</text>
<path d="M334.4,354.6 V362.4 M332.2,359.79999999999995 L334.4,362.4 L336.59999999999997,359.79999999999995" fill="none" stroke="#1a1a1a" stroke-width="1.1"/>
<path d="M16.6,331.0 C17.0,331.0 18.4,332.0 19.0,330.8 C19.6,329.6 19.7,326.2 20.4,324.0 C21.1,321.8 21.9,319.1 23.0,317.4 C24.1,315.7 25.7,314.7 27.0,314.0 C28.3,313.3 29.2,313.0 31.0,313.0 C32.8,313.0 34.8,313.2 38.0,314.2 C41.2,315.2 46.7,317.6 50.0,319.0 C53.3,320.4 55.7,321.5 58.0,322.6 C60.3,323.7 63.0,324.9 64.0,325.4" fill="none" stroke="#c4c4c4" stroke-width="1.3" stroke-linecap="round" stroke-linejoin="round"/>
<path d="M16.4,335.0 C16.8,335.0 18.3,335.8 19.0,334.8 C19.7,333.8 19.8,331.0 20.6,329.0 C21.4,327.0 22.8,324.4 24.0,323.0 C25.2,321.6 26.7,321.3 28.0,320.8 C29.3,320.3 30.0,320.1 32.0,320.2 C34.0,320.3 37.0,320.7 40.0,321.6 C43.0,322.5 47.0,324.4 50.0,325.6 C53.0,326.8 55.7,327.9 58.0,328.8 C60.3,329.7 63.0,330.6 64.0,331.0" fill="none" stroke="#0a0a0a" stroke-width="1.4" stroke-linecap="round" stroke-linejoin="round"/>
<path d="M16.6,369.0 C16.9,368.9 18.0,369.3 18.6,368.6 C19.2,367.9 19.7,365.8 20.4,364.6 C21.1,363.4 22.2,362.2 23.0,361.6 C23.8,361.0 24.0,360.9 25.0,361.0 C26.0,361.1 27.5,361.5 29.0,362.2 C30.5,362.9 32.2,364.2 34.0,365.0 C35.8,365.8 37.3,366.6 40.0,367.2 C42.7,367.8 46.0,368.4 50.0,368.8 C54.0,369.2 61.7,369.5 64.0,369.6" fill="none" stroke="#c4c4c4" stroke-width="1.3" stroke-linecap="round" stroke-linejoin="round"/>
<path d="M16.4,374.0 C16.8,373.9 17.9,374.4 18.6,373.6 C19.3,372.8 19.7,370.3 20.4,369.0 C21.1,367.7 22.2,366.5 23.0,365.8 C23.8,365.1 24.4,364.9 25.4,365.0 C26.4,365.1 27.6,365.5 29.0,366.2 C30.4,366.9 32.2,368.2 34.0,369.0 C35.8,369.8 37.3,370.4 40.0,371.0 C42.7,371.6 46.0,372.1 50.0,372.4 C54.0,372.7 61.7,372.9 64.0,373.0" fill="none" stroke="#0a0a0a" stroke-width="1.4" stroke-linecap="round" stroke-linejoin="round"/>
<path d="M68.4,335.0 C68.7,335.1 69.5,335.3 70.0,335.4 C70.5,335.5 71.0,335.9 71.6,335.6 C72.2,335.3 72.9,334.6 73.6,333.4 C74.3,332.2 74.9,330.3 76.0,328.4 C77.1,326.5 78.3,324.0 80.0,322.2 C81.7,320.4 83.3,318.9 86.0,317.6 C88.7,316.3 92.7,315.3 96.0,314.4 C99.3,313.5 102.7,313.0 106.0,312.4 C109.3,311.8 114.3,311.2 116.0,311.0" fill="none" stroke="#0a0a0a" stroke-width="1.4" stroke-linecap="round" stroke-linejoin="round"/>
<path d="M68.4,331.6 C68.8,331.6 70.2,331.6 71.0,331.4 C71.8,331.2 72.6,331.2 73.4,330.6 C74.2,330.0 75.2,328.3 75.6,327.8" fill="none" stroke="#c4c4c4" stroke-width="1.3" stroke-linecap="round" stroke-linejoin="round"/>
<path d="M88.0,316.0 C89.3,315.6 93.0,314.2 96.0,313.5 C99.0,312.8 102.7,312.1 106.0,311.5 C109.3,310.9 114.3,310.2 116.0,310.0" fill="none" stroke="#c4c4c4" stroke-width="1.3" stroke-linecap="round" stroke-linejoin="round"/>
<path d="M68.4,367.0 C69.0,367.0 71.1,366.7 72.0,367.0 C72.9,367.3 73.2,368.1 74.0,368.6 C74.8,369.1 74.3,369.7 77.0,370.0 C79.7,370.3 83.5,370.2 90.0,370.4 C96.5,370.6 111.7,370.9 116.0,371.0" fill="none" stroke="#c4c4c4" stroke-width="1.3" stroke-linecap="round" stroke-linejoin="round"/>
<path d="M68.4,370.4 C69.0,370.5 71.0,370.5 72.0,370.8 C73.0,371.1 73.6,371.9 74.6,372.4 C75.6,372.9 74.6,373.4 78.0,373.8 C81.4,374.2 88.7,374.5 95.0,374.8 C101.3,375.1 112.5,375.5 116.0,375.6" fill="none" stroke="#0a0a0a" stroke-width="1.4" stroke-linecap="round" stroke-linejoin="round"/>
<path d="M120.0,331.6 C120.6,331.5 122.6,331.8 123.4,331.2 C124.2,330.6 124.2,329.9 124.6,328.0 C125.0,326.1 125.4,322.1 126.0,320.0 C126.6,317.9 127.3,316.8 128.0,315.6 C128.7,314.4 128.7,314.0 130.0,313.0 C131.3,312.0 133.3,310.6 136.0,309.6 C138.7,308.6 142.7,307.6 146.0,307.0 C149.3,306.4 152.7,306.1 156.0,305.8 C159.3,305.5 164.3,305.3 166.0,305.2" fill="none" stroke="#c4c4c4" stroke-width="1.3" stroke-linecap="round" stroke-linejoin="round"/>
<path d="M120.0,335.0 C120.3,335.1 121.4,335.2 122.0,335.4 C122.6,335.6 123.0,336.6 123.4,336.0 C123.8,335.4 124.2,334.2 124.6,332.0 C125.0,329.8 125.3,325.1 126.0,322.6 C126.7,320.1 127.7,318.4 129.0,317.0 C130.3,315.6 131.5,314.8 134.0,314.0 C136.5,313.2 140.3,312.7 144.0,312.4 C147.7,312.1 152.3,312.2 156.0,312.2 C159.7,312.2 164.3,312.4 166.0,312.4" fill="none" stroke="#0a0a0a" stroke-width="1.4" stroke-linecap="round" stroke-linejoin="round"/>
<path d="M120.0,369.0 C120.3,368.9 121.4,368.5 122.0,368.4 C122.6,368.3 123.0,367.8 123.4,368.2 C123.8,368.6 124.0,370.4 124.4,371.0 C124.8,371.6 123.4,371.6 126.0,371.6 C128.6,371.6 133.3,371.2 140.0,371.0 C146.7,370.8 161.7,370.5 166.0,370.4" fill="none" stroke="#c4c4c4" stroke-width="1.3" stroke-linecap="round" stroke-linejoin="round"/>
<path d="M120.0,370.6 C120.4,370.6 122.0,370.3 122.6,370.8 C123.2,371.3 123.0,373.0 123.6,373.6 C124.2,374.2 123.3,374.1 126.0,374.2 C128.7,374.3 133.3,374.2 140.0,374.2 C146.7,374.2 161.7,374.4 166.0,374.4" fill="none" stroke="#0a0a0a" stroke-width="1.4" stroke-linecap="round" stroke-linejoin="round"/>
<path d="M174.4,332.0 C174.9,332.0 176.9,332.5 177.6,332.0 C178.3,331.5 178.4,330.3 178.8,329.0 C179.2,327.7 179.3,325.7 180.0,324.0 C180.7,322.3 182.0,320.1 183.0,319.0 C184.0,317.9 184.8,317.8 186.0,317.4 C187.2,317.0 187.7,316.7 190.0,316.4 C192.3,316.1 194.7,315.8 200.0,315.6 C205.3,315.4 218.3,315.1 222.0,315.0" fill="none" stroke="#c4c4c4" stroke-width="1.3" stroke-linecap="round" stroke-linejoin="round"/>
<path d="M174.4,335.6 C174.8,335.6 176.0,335.7 176.6,335.8 C177.2,335.9 177.6,336.7 178.0,336.4 C178.4,336.1 178.6,335.1 179.0,334.0 C179.4,332.9 179.7,331.1 180.4,329.6 C181.1,328.1 181.7,326.3 183.0,325.0 C184.3,323.7 186.2,322.4 188.0,321.6 C189.8,320.8 192.0,320.6 194.0,320.2 C196.0,319.8 195.3,319.7 200.0,319.4 C204.7,319.1 218.3,318.6 222.0,318.4" fill="none" stroke="#0a0a0a" stroke-width="1.4" stroke-linecap="round" stroke-linejoin="round"/>
<path d="M174.4,367.6 C175.0,367.6 176.9,367.7 178.0,367.8 C179.1,367.9 180.2,368.5 181.0,368.4 C181.8,368.3 182.3,367.7 183.0,367.0 C183.7,366.3 183.8,365.7 185.0,364.0 C186.2,362.3 188.2,358.7 190.0,357.0 C191.8,355.3 193.3,354.7 196.0,354.0 C198.7,353.3 201.7,353.2 206.0,353.0 C210.3,352.8 219.3,352.7 222.0,352.6" fill="none" stroke="#c4c4c4" stroke-width="1.3" stroke-linecap="round" stroke-linejoin="round"/>
<path d="M174.4,371.0 C175.3,371.0 175.7,370.7 180.0,370.8 C184.3,370.9 193.0,371.4 200.0,371.6 C207.0,371.8 218.3,372.1 222.0,372.2" fill="none" stroke="#0a0a0a" stroke-width="1.4" stroke-linecap="round" stroke-linejoin="round"/>
<path d="M227.0,332.0 C227.7,332.0 230.5,332.8 231.4,332.0 C232.3,331.2 232.2,328.7 232.6,327.0 C233.0,325.3 232.9,323.8 233.6,322.0 C234.3,320.2 235.6,317.5 237.0,316.0 C238.4,314.5 239.5,313.7 242.0,313.0 C244.5,312.3 246.7,312.0 252.0,311.6 C257.3,311.2 270.3,310.6 274.0,310.4" fill="none" stroke="#c4c4c4" stroke-width="1.3" stroke-linecap="round" stroke-linejoin="round"/>
<path d="M227.0,335.6 C227.5,335.6 229.2,335.7 230.0,335.8 C230.8,335.9 231.3,337.0 231.8,336.2 C232.3,335.4 232.4,333.1 232.8,331.0 C233.2,328.9 233.3,325.7 234.0,323.6 C234.7,321.5 235.7,319.5 237.0,318.2 C238.3,316.9 239.5,316.4 242.0,315.8 C244.5,315.2 246.7,314.8 252.0,314.4 C257.3,314.0 270.3,313.7 274.0,313.6" fill="none" stroke="#0a0a0a" stroke-width="1.4" stroke-linecap="round" stroke-linejoin="round"/>
<path d="M227.0,367.6 C227.7,367.6 229.8,367.6 231.0,367.8 C232.2,368.0 233.0,369.0 234.0,369.0 C235.0,369.0 236.0,368.4 237.0,367.6 C238.0,366.8 238.5,365.8 240.0,364.0 C241.5,362.2 243.7,358.9 246.0,357.0 C248.3,355.1 251.0,353.5 254.0,352.4 C257.0,351.3 260.7,350.8 264.0,350.4 C267.3,350.0 272.3,350.1 274.0,350.0" fill="none" stroke="#c4c4c4" stroke-width="1.3" stroke-linecap="round" stroke-linejoin="round"/>
<path d="M227.0,371.6 C227.7,371.5 229.5,370.9 231.0,371.0 C232.5,371.1 232.8,371.7 236.0,372.0 C239.2,372.3 243.7,372.7 250.0,373.0 C256.3,373.3 270.0,373.5 274.0,373.6" fill="none" stroke="#0a0a0a" stroke-width="1.4" stroke-linecap="round" stroke-linejoin="round"/>
<path d="M278.0,332.0 C279.2,332.0 283.5,331.7 285.0,332.0 C286.5,332.3 286.4,334.3 287.0,334.0 C287.6,333.7 288.1,332.0 288.6,330.0 C289.1,328.0 289.3,325.0 290.0,322.0 C290.7,319.0 291.8,314.4 293.0,312.0 C294.2,309.6 295.2,308.7 297.0,307.6 C298.8,306.5 301.2,306.0 304.0,305.6 C306.8,305.2 310.5,305.4 314.0,305.4 C317.5,305.4 323.2,305.6 325.0,305.6" fill="none" stroke="#c4c4c4" stroke-width="1.3" stroke-linecap="round" stroke-linejoin="round"/>
<path d="M278.0,335.0 C279.3,335.1 284.2,335.3 286.0,335.6 C287.8,335.9 287.9,336.7 288.6,337.0 C289.3,337.3 289.8,337.9 290.4,337.6 C291.0,337.3 291.4,336.8 292.0,335.4 C292.6,334.0 293.1,331.9 294.0,329.4 C294.9,326.9 296.4,322.7 297.6,320.6 C298.8,318.5 299.6,318.0 301.0,317.0 C302.4,316.0 303.8,315.1 306.0,314.4 C308.2,313.7 310.8,313.1 314.0,312.6 C317.2,312.1 323.2,311.6 325.0,311.4" fill="none" stroke="#0a0a0a" stroke-width="1.4" stroke-linecap="round" stroke-linejoin="round"/>
<path d="M278.0,367.0 C279.3,367.2 283.8,367.6 286.0,368.0 C288.2,368.4 289.5,369.2 291.0,369.6 C292.5,370.0 293.8,370.6 295.0,370.4 C296.2,370.2 296.8,369.7 298.0,368.6 C299.2,367.5 300.3,365.4 302.0,364.0 C303.7,362.6 305.7,360.9 308.0,360.0 C310.3,359.1 313.2,358.7 316.0,358.4 C318.8,358.1 323.5,358.1 325.0,358.0" fill="none" stroke="#c4c4c4" stroke-width="1.3" stroke-linecap="round" stroke-linejoin="round"/>
<path d="M278.0,369.8 C279.3,369.9 283.7,370.0 286.0,370.6 C288.3,371.2 289.7,372.5 292.0,373.2 C294.3,373.9 297.0,374.7 300.0,375.0 C303.0,375.3 305.8,375.0 310.0,374.8 C314.2,374.6 322.5,374.0 325.0,373.8" fill="none" stroke="#0a0a0a" stroke-width="1.4" stroke-linecap="round" stroke-linejoin="round"/>
<path d="M331.6,331.6 C332.5,331.7 335.8,331.8 337.0,332.0 C338.2,332.2 338.4,333.5 339.0,333.0 C339.6,332.5 339.9,330.8 340.4,329.0 C340.9,327.2 341.2,324.2 342.0,322.0 C342.8,319.8 343.7,317.5 345.0,316.0 C346.3,314.5 347.5,313.7 350.0,313.0 C352.5,312.3 355.3,312.2 360.0,312.0 C364.7,311.8 375.0,311.7 378.0,311.6" fill="none" stroke="#c4c4c4" stroke-width="1.3" stroke-linecap="round" stroke-linejoin="round"/>
<path d="M331.6,335.0 C332.7,335.0 336.7,335.3 338.0,335.0 C339.3,334.7 339.1,334.2 339.6,333.0 C340.1,331.8 340.1,329.8 341.0,328.0 C341.9,326.2 343.3,323.7 345.0,322.0 C346.7,320.3 348.5,319.0 351.0,318.0 C353.5,317.0 355.5,316.5 360.0,316.0 C364.5,315.5 375.0,315.2 378.0,315.0" fill="none" stroke="#0a0a0a" stroke-width="1.4" stroke-linecap="round" stroke-linejoin="round"/>
<path d="M331.6,368.0 C332.8,368.2 337.3,368.6 339.0,369.0 C340.7,369.4 341.3,370.9 342.0,370.4 C342.7,369.9 342.9,367.7 343.4,366.0 C343.9,364.3 344.1,362.3 345.0,360.0 C345.9,357.7 347.5,353.9 349.0,352.0 C350.5,350.1 351.5,349.4 354.0,348.6 C356.5,347.8 360.0,347.4 364.0,347.0 C368.0,346.6 375.7,346.5 378.0,346.4" fill="none" stroke="#c4c4c4" stroke-width="1.3" stroke-linecap="round" stroke-linejoin="round"/>
<path d="M331.6,374.0 C333.8,374.0 341.9,373.9 345.0,373.8 C348.1,373.7 348.2,374.0 350.0,373.4 C351.8,372.8 353.7,371.4 356.0,370.0 C358.3,368.6 361.7,366.2 364.0,365.0 C366.3,363.8 367.7,363.6 370.0,363.0 C372.3,362.4 376.7,361.8 378.0,361.6" fill="none" stroke="#0a0a0a" stroke-width="1.4" stroke-linecap="round" stroke-linejoin="round"/>
<text x="28.60" y="384.80" font-size="7.7">10 min</text>
<path d="M18,389.5 H61.6" fill="none" stroke="#222" stroke-width="1.0"/>
<path d="M16.4,389.5 L20.2,387.5 V391.5z M63.2,389.5 L59.4,387.5 V391.5z" fill="#111"/>
<line x1="69.00" y1="389.50" x2="84.00" y2="389.50" stroke="#2a2a2a" stroke-width="1.1"/>
<text x="92.00" y="391.60" font-size="7.7">WT</text>
<line x1="120.00" y1="389.50" x2="135.00" y2="389.50" stroke="#c4c4c4" stroke-width="0.9"/>
<text x="140.00" y="391.60" font-size="7.72" font-style="italic">Slap<tspan dy="-2.3" font-size="4.8" stroke-width="0">-/-</tspan><tspan dy="2.3">/Slap2</tspan><tspan dy="-2.3" font-size="4.8" stroke-width="0">-/-</tspan></text>
<text x="392.40" y="278.30" font-size="11.3" font-weight="bold">E</text>
<rect x="422.00" y="280.40" width="6.40" height="6.60" fill="#000"/>
<text x="430.60" y="287.00" font-size="7.7">WT</text>
<rect x="422.40" y="291.60" width="5.70" height="6.00" fill="#cecece" stroke="#333" stroke-width="0.8"/>
<text x="430.60" y="297.60" font-size="8.0" font-style="italic">Slap<tspan dy="-2.3" font-size="4.8" stroke-width="0">-/-</tspan><tspan dy="2.3">/Slap2</tspan><tspan dy="-2.3" font-size="4.8" stroke-width="0">-/-</tspan></text>
<line x1="418.50" y1="313.60" x2="418.50" y2="384.40" stroke="#111" stroke-width="1.0"/>
<line x1="417.00" y1="384.50" x2="517.40" y2="384.50" stroke="#111" stroke-width="1.0"/>
<line x1="417.00" y1="314.50" x2="418.60" y2="314.50" stroke="#111" stroke-width="0.9"/>
<text x="415.50" y="316.70" font-size="7.7" text-anchor="end">40</text>
<line x1="417.00" y1="331.50" x2="418.60" y2="331.50" stroke="#111" stroke-width="0.9"/>
<text x="415.50" y="334.20" font-size="7.7" text-anchor="end">30</text>
<line x1="417.00" y1="349.50" x2="418.60" y2="349.50" stroke="#111" stroke-width="0.9"/>
<text x="415.50" y="351.70" font-size="7.7" text-anchor="end">20</text>
<line x1="417.00" y1="366.50" x2="418.60" y2="366.50" stroke="#111" stroke-width="0.9"/>
<text x="415.50" y="369.20" font-size="7.7" text-anchor="end">10</text>
<line x1="417.00" y1="384.50" x2="418.60" y2="384.50" stroke="#111" stroke-width="0.9"/>
<text x="415.50" y="386.70" font-size="7.7" text-anchor="end">0</text>
<text x="399.20" y="349.00" font-size="7.7" text-anchor="middle" transform="rotate(-90 399.20 349.00)">ATP release (nM)</text>
<line x1="424.50" y1="329.00" x2="424.50" y2="325.00" stroke="#111" stroke-width="0.8"/>
<line x1="423.10" y1="325.50" x2="426.50" y2="325.50" stroke="#111" stroke-width="0.8"/>
<rect x="422.00" y="329.00" width="5.60" height="55.00" fill="#000"/>
<line x1="430.50" y1="337.40" x2="430.50" y2="333.00" stroke="#111" stroke-width="0.8"/>
<line x1="428.55" y1="333.50" x2="431.95" y2="333.50" stroke="#111" stroke-width="0.8"/>
<rect x="427.95" y="337.75" width="4.60" height="46.25" fill="#c6c6c6" stroke="#111" stroke-width="0.7"/>
<line x1="441.50" y1="366.00" x2="441.50" y2="360.40" stroke="#111" stroke-width="0.8"/>
<line x1="439.70" y1="360.50" x2="443.10" y2="360.50" stroke="#111" stroke-width="0.8"/>
<rect x="438.60" y="366.00" width="5.60" height="18.00" fill="#000"/>
<line x1="446.50" y1="373.00" x2="446.50" y2="370.00" stroke="#111" stroke-width="0.8"/>
<line x1="445.15" y1="370.50" x2="448.55" y2="370.50" stroke="#111" stroke-width="0.8"/>
<rect x="444.55" y="373.35" width="4.60" height="10.65" fill="#c6c6c6" stroke="#111" stroke-width="0.7"/>
<line x1="458.50" y1="346.40" x2="458.50" y2="343.00" stroke="#111" stroke-width="0.8"/>
<line x1="456.50" y1="343.50" x2="459.90" y2="343.50" stroke="#111" stroke-width="0.8"/>
<rect x="455.40" y="346.40" width="5.60" height="37.60" fill="#000"/>
<line x1="463.50" y1="344.00" x2="463.50" y2="343.60" stroke="#111" stroke-width="0.8"/>
<line x1="461.95" y1="343.50" x2="465.35" y2="343.50" stroke="#111" stroke-width="0.8"/>
<rect x="461.35" y="344.35" width="4.60" height="39.65" fill="#c6c6c6" stroke="#111" stroke-width="0.7"/>
<line x1="479.50" y1="378.40" x2="479.50" y2="376.00" stroke="#111" stroke-width="0.8"/>
<line x1="478.15" y1="376.50" x2="481.55" y2="376.50" stroke="#111" stroke-width="0.8"/>
<rect x="477.55" y="378.75" width="4.60" height="5.25" fill="#c6c6c6" stroke="#111" stroke-width="0.7"/>
<line x1="491.50" y1="355.40" x2="491.50" y2="348.40" stroke="#111" stroke-width="0.8"/>
<line x1="489.70" y1="348.50" x2="493.10" y2="348.50" stroke="#111" stroke-width="0.8"/>
<rect x="488.60" y="355.40" width="5.60" height="28.60" fill="#000"/>
<line x1="496.50" y1="353.10" x2="496.50" y2="352.80" stroke="#111" stroke-width="0.8"/>
<line x1="495.15" y1="352.50" x2="498.55" y2="352.50" stroke="#111" stroke-width="0.8"/>
<rect x="494.55" y="353.45" width="4.60" height="30.55" fill="#c6c6c6" stroke="#111" stroke-width="0.7"/>
<line x1="512.50" y1="377.40" x2="512.50" y2="375.80" stroke="#111" stroke-width="0.8"/>
<line x1="511.25" y1="375.50" x2="514.65" y2="375.50" stroke="#111" stroke-width="0.8"/>
<rect x="510.65" y="377.75" width="4.60" height="6.25" fill="#c6c6c6" stroke="#111" stroke-width="0.7"/>
<text x="427.40" y="394.80" font-size="7.7" text-anchor="middle">50</text>
<text x="443.80" y="394.80" font-size="7.7" text-anchor="middle">10</text>
<text x="461.00" y="394.80" font-size="7.7" text-anchor="middle">100</text>
<text x="477.40" y="394.80" font-size="7.7" text-anchor="middle">10</text>
<text x="493.50" y="394.80" font-size="7.7" text-anchor="middle">25</text>
<text x="512.00" y="394.80" font-size="7.7" text-anchor="middle">5</text>
<line x1="422.00" y1="398.50" x2="450.00" y2="398.50" stroke="#111" stroke-width="0.8"/>
<line x1="455.00" y1="398.50" x2="482.60" y2="398.50" stroke="#111" stroke-width="0.8"/>
<line x1="488.00" y1="398.50" x2="516.00" y2="398.50" stroke="#111" stroke-width="0.8"/>
<text x="436.00" y="408.30" font-size="7.7" text-anchor="middle">(mU/mL)</text>
<text x="469.00" y="408.30" font-size="7.7" text-anchor="middle">(ng/mL)</text>
<text x="502.00" y="408.30" font-size="7.7" text-anchor="middle">(ng/mL)</text>
<line x1="422.00" y1="319.50" x2="450.00" y2="319.50" stroke="#111" stroke-width="0.8"/>
<text x="436.40" y="316.20" font-size="7.7" text-anchor="middle">thr.</text>
<line x1="455.00" y1="339.50" x2="482.60" y2="339.50" stroke="#111" stroke-width="0.8"/>
<text x="468.60" y="335.40" font-size="7.7" text-anchor="middle">CRP</text>
<line x1="488.00" y1="339.50" x2="516.00" y2="339.50" stroke="#111" stroke-width="0.8"/>
<text x="502.50" y="335.40" font-size="7.7" text-anchor="middle">RC</text>
</svg>
</body>
</html>
